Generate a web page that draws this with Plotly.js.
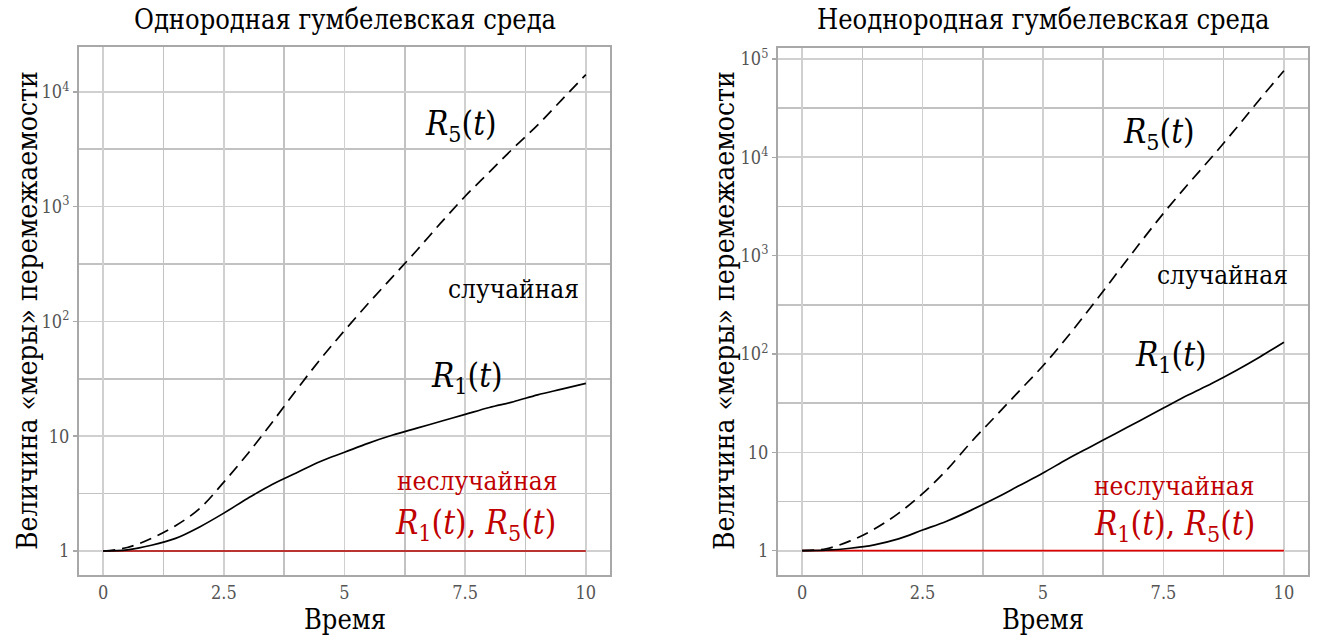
<!DOCTYPE html>
<html>
<head>
<meta charset="utf-8">
<script src="https://cdn.plot.ly/plotly-3.0.1.min.js"></script>
<style>
  html, body { margin: 0; padding: 0; background: #ffffff; }
  #chart { width: 1319px; height: 641px; }
</style>
</head>
<body>
<div id="chart"></div>
<script>
// Время (общая сетка для обеих панелей)
const time = [0, 0.5, 1, 1.5, 2, 2.5, 3, 3.5, 4, 4.5, 5, 5.5, 6, 6.5, 7, 7.5, 8, 8.5, 9, 9.5, 10];

// Однородная среда: случайная мера перемежаемости
const homR5 = [1, 1.072, 1.288, 1.660, 2.344, 3.981, 7.079, 13.18, 25.12, 46.77, 83.18,
               144.5, 245.5, 416.9, 724.4, 1230, 1995, 3236, 5129, 8511, 14125];
const homR1 = [1, 1.023, 1.122, 1.288, 1.622, 2.138, 2.884, 3.802, 4.786, 6.026, 7.244,
               8.710, 10.23, 11.75, 13.49, 15.49, 17.78, 19.95, 22.91, 25.70, 28.84];

// Неоднородная среда: случайная мера перемежаемости
const hetR5 = [1, 1.047, 1.259, 1.660, 2.399, 3.802, 6.607, 12.59, 22.91, 41.69, 75.86,
               147.9, 302.0, 631.0, 1318, 2692, 5248, 10000, 19498, 38905, 75858];
const hetR1 = [1, 1.012, 1.059, 1.148, 1.318, 1.622, 1.995, 2.570, 3.388, 4.571, 6.166,
               8.511, 11.48, 15.49, 20.89, 28.18, 38.02, 50.12, 67.61, 93.33, 131.8];

// Неслучайная мера: R1(t) = R5(t) = 1
const detTime = [0, 10];
const detValue = [1, 1];

// Подписи делений
const xTicks = [0, 2.5, 5, 7.5, 10];
const xTickText = ['0', '2.5', '5', '7.5', '10'];
const xMinor = [1.25, 3.75, 6.25, 8.75];
const yTicksLeft = [1, 10, 100, 1000, 10000];
const yTextLeft = ['1', '10', '10<sup>2</sup>', '10<sup>3</sup>', '10<sup>4</sup>'];
const yMinorLeft = [3.1623, 31.623, 316.23, 3162.3, 31623];
const yTicksRight = [1, 10, 100, 1000, 10000, 100000];
const yTextRight = ['1', '10', '10<sup>2</sup>', '10<sup>3</sup>', '10<sup>4</sup>', '10<sup>5</sup>'];
const yMinorRight = [3.1623, 31.623, 316.23, 3162.3, 31623, 316230];

const titles = ['Однородная гумбелевская среда', 'Неоднородная гумбелевская среда'];
const xTitle = 'Время';
const yTitle = 'Величина «меры» перемежаемости';
const labelRandom = 'случайная';
const labelDet = 'неслучайная';
const labelR5 = '<i>R</i><sub>5</sub>(<i>t</i>)';
const labelR1 = '<i>R</i><sub>1</sub>(<i>t</i>)';
const labelBoth = '<i>R</i><sub>1</sub>(<i>t</i>), <i>R</i><sub>5</sub>(<i>t</i>)';

const SERIF = 'DejaVu Serif Condensed, DejaVu Serif';
const W = 1319, H = 641;
const px = v => v / W;
const py = v => 1 - v / H;

function curve(x, y, xa, ya, color, dash) {
  return {
    x: x, y: y, xaxis: xa, yaxis: ya, type: 'scatter', mode: 'lines',
    line: { color: color, width: 1.7, dash: dash || 'solid', shape: 'spline', smoothing: 1 },
    hoverinfo: 'skip', showlegend: false
  };
}

const data = [
  curve(detTime, detValue, 'x', 'y', '#b30000'),
  curve(time, homR1, 'x', 'y', '#000000'),
  curve(time, homR5, 'x', 'y', '#000000', '12px,7px'),
  curve(detTime, detValue, 'x2', 'y2', '#e00000'),
  curve(time, hetR1, 'x2', 'y2', '#000000'),
  curve(time, hetR5, 'x2', 'y2', '#000000', '12px,7px')
];

function xAxis(domain) {
  return {
    domain: domain, range: [-0.5, 10.5], type: 'linear',
    tickvals: xTicks, ticktext: xTickText, ticks: '',
    showgrid: true, gridcolor: '#d0d0d0', gridwidth: 1.6,
    minor: { tickvals: xMinor, showgrid: true, gridcolor: '#c2c2c2', gridwidth: 1.6, ticks: '' },
    showline: true, mirror: true, linecolor: '#a8a8a8', linewidth: 2,
    zeroline: false, fixedrange: true,
    tickfont: { family: SERIF, size: 18, color: '#555555' }
  };
}
function yAxis(domain, range, tv, tt, minor, anchor) {
  return {
    domain: domain, range: range, type: 'log', anchor: anchor,
    tickvals: tv, ticktext: tt, ticks: 'outside', ticklen: 4, tickcolor: '#a8a8a8', tickwidth: 1.5,
    showgrid: true, gridcolor: '#d0d0d0', gridwidth: 1.6,
    minor: { tickvals: minor, showgrid: true, gridcolor: '#c2c2c2', gridwidth: 1.6, ticks: '' },
    showline: true, mirror: true, linecolor: '#a8a8a8', linewidth: 2,
    zeroline: false, fixedrange: true,
    tickfont: { family: SERIF, size: 18, color: '#555555' }
  };
}

function note(text, x, y, size, color, angle) {
  return {
    text: text, xref: 'paper', yref: 'paper', x: px(x), y: py(y),
    xanchor: 'center', yanchor: 'middle', showarrow: false,
    textangle: angle || 0,
    font: { family: SERIF, size: size, color: color || '#000000' }
  };
}

const annotations = [
  note(titles[0], 345, 19, 27),
  note(titles[1], 1043, 19, 27),
  note(xTitle, 345, 619, 27),
  note(xTitle, 1043, 619, 27),
  note(yTitle, 27, 311, 28, '#000000', -90),
  note(yTitle, 724, 311, 28, '#000000', -90),

  note(labelR5, 461, 126, 33),
  note(labelRandom, 513, 289, 26),
  note(labelR1, 467, 377, 33),
  note(labelDet, 477, 481, 26, '#c00000'),
  note(labelBoth, 475, 524, 33, '#c00000'),

  note(labelR5, 1159, 133, 33),
  note(labelRandom, 1222, 275, 26),
  note(labelR1, 1171, 356, 33),
  note(labelDet, 1174, 486, 26, '#c00000'),
  note(labelBoth, 1174, 525, 33, '#c00000')
];

const layout = {
  width: W, height: H,
  margin: { l: 0, r: 0, t: 0, b: 0 },
  paper_bgcolor: '#ffffff', plot_bgcolor: '#ffffff',
  font: { family: SERIF },
  showlegend: false,
  xaxis: Object.assign(xAxis([px(79), px(610)]), { anchor: 'y' }),
  yaxis: yAxis([1 - 575 / H, 1 - 47 / H], [-0.209, 4.390], yTicksLeft, yTextLeft, yMinorLeft, 'x'),
  xaxis2: Object.assign(xAxis([px(778), px(1308)]), { anchor: 'y2' }),
  yaxis2: yAxis([1 - 575 / H, 1 - 48 / H], [-0.247, 5.111], yTicksRight, yTextRight, yMinorRight, 'x2'),
  annotations: annotations
};

Plotly.newPlot('chart', data, layout, { staticPlot: true, displayModeBar: false });
</script>
</body>
</html>
